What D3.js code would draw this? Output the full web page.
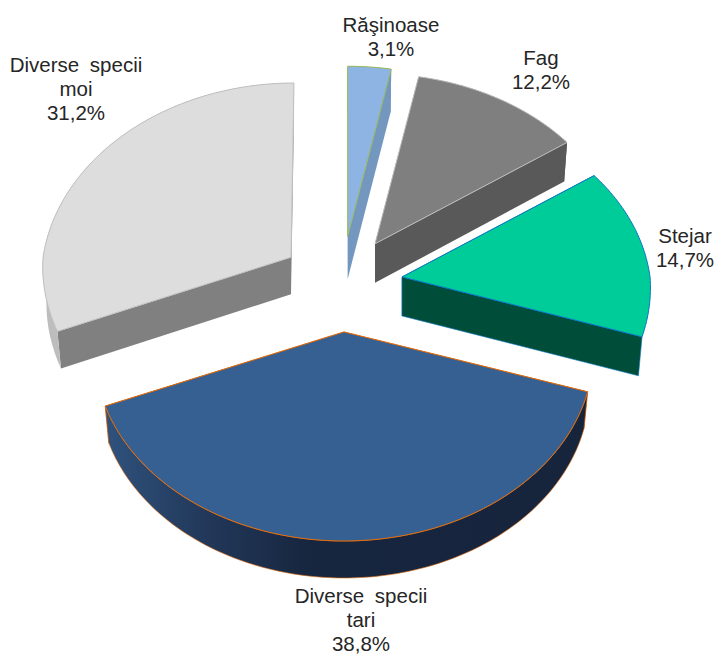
<!DOCTYPE html>
<html>
<head>
<meta charset="utf-8">
<script src="https://cdn.jsdelivr.net/npm/d3@7"></script>
<style>
  html, body { margin: 0; padding: 0; background: #fff; }
  svg { display: block; }
</style>
</head>
<body>
<div id="pieArea"></div>
<script>
// values
const species = ['Răşinoase', 'Fag', 'Stejar', 'Diverse specii tari', 'Diverse specii moi'];
const shares = [3.1, 12.2, 14.7, 38.8, 31.2];
const labelLines = [
  ['Răşinoase', '3,1%'],
  ['Fag', '12,2%'],
  ['Stejar', '14,7%'],
  ['Diverse specii', 'tari', '38,8%'],
  ['Diverse specii', 'moi', '31,2%']
];

// colours per slice: top, radial wall, outer wall, outline
const topColors = ['#8db4e2', '#7f7f7f', '#00cc99', '#376092', '#dddddd'];
const wallColors = ['#7497c0', '#595959', '#004d3a', '#17263f', '#808080'];
const rimColors = ['#7497c0', '#595959', 'none', 'url(#rimTari)', '#bdbdbd']; // stejar shows no outer wall
const lineColors = ['#9bbb59', '#bfbfbf', '#0b78c4', '#e46c0a', '#bfbfbf'];

const width = 716, height = 654;
const centerX = 341.7, centerY = 284;
const explode = 61, explodeY = 48;   // how far the slices are pulled out
const radiusX = 248, radiusY = 187.5, persp = 0.103;
const sliceDepth = [43, 39, 39, 37, 37];
const bottomShrink = 0.985;          // the lower face looks slightly narrower
// small per slice corrections of the 3d look
const leanLow = [0, 0, -0.06, 0, 0.07];
const leanHigh = [0, 0, 0, 0, -0.017];
const backStretch = [1, 1, 1, 1, 1.025];

// label anchor: x centre and first baseline
const labelX = [391, 541, 685, 361, 76];
const labelY = [32, 65, 243, 603, 72];
const lineStep = 24;

const svg = d3.select('#pieArea').append('svg')
  .attr('width', width)
  .attr('height', height);

const grad = svg.append('defs').append('linearGradient')
  .attr('id', 'rimTari')
  .attr('gradientUnits', 'userSpaceOnUse')
  .attr('x1', 105).attr('x2', 590).attr('y1', 0).attr('y2', 0);
grad.append('stop').attr('offset', '0').attr('stop-color', '#2f527d');
grad.append('stop').attr('offset', '0.2').attr('stop-color', '#22395b');
grad.append('stop').attr('offset', '0.42').attr('stop-color', '#17263f');
grad.append('stop').attr('offset', '1').attr('stop-color', '#16253c');

const pie = d3.pie().sort(null).value(d => d);
const arcs = pie(shares);

// point on the rim of a slice, relative to its apex, with a bit of perspective
function rimPoint(angle, i) {
  const u = Math.sin(angle), v = Math.cos(angle);
  const w = 1 + persp * v;
  let x = radiusX * u / w;
  let y = -radiusY * v / w;
  if (y > 0) {
    x += leanLow[i] * y;
  } else {
    y *= backStretch[i];
    x += leanHigh[i] * y;
  }
  return [x, y];
}

const lineGen = d3.line();

function drawSlice(i) {
  const a = arcs[i];
  const mid = (a.startAngle + a.endAngle) / 2;
  const ax = centerX + explode * Math.sin(mid);
  const ay = centerY - explodeY * Math.cos(mid);
  const depth = sliceDepth[i];

  const n = Math.ceil((a.endAngle - a.startAngle) / 0.02);
  const angles = d3.range(n + 1).map(k => a.startAngle + (a.endAngle - a.startAngle) * k / n);
  const upper = angles.map(t => { const p = rimPoint(t, i); return [ax + p[0], ay + p[1]]; });
  const lower = angles.map(t => { const p = rimPoint(t, i); return [ax + p[0] * bottomShrink, ay + p[1] + depth]; });

  const g = svg.append('g').attr('class', 'slice').datum(species[i]);

  // radial walls, the top face hides whatever should not be seen
  [0, n].forEach(k => {
    g.append('path')
      .attr('d', lineGen([[ax, ay], upper[k], lower[k], [ax, ay + depth]]) + 'Z')
      .attr('fill', wallColors[i])
      .attr('stroke', i == 3 || i == 2 ? lineColors[i] : 'none')
      .attr('stroke-width', 0.6);
  });

  // outer wall
  if (rimColors[i] != 'none') {
    g.append('path')
      .attr('d', lineGen(upper.concat(lower.slice().reverse())) + 'Z')
      .attr('fill', rimColors[i])
      .attr('stroke', i == 3 ? lineColors[i] : 'none')
      .attr('stroke-width', 0.6);
  }

  // top face
  g.append('path')
    .attr('d', lineGen([[ax, ay]].concat(upper)) + 'Z')
    .attr('fill', topColors[i])
    .attr('stroke', lineColors[i])
    .attr('stroke-width', 1)
    .attr('stroke-linejoin', 'round');
}

// back to front
[0, 1, 4, 2, 3].forEach(drawSlice);

labelLines.forEach((lines, i) => {
  const t = svg.append('text')
    .attr('text-anchor', 'middle')
    .attr('font-family', '"Liberation Sans", Arial, sans-serif')
    .attr('font-size', 20.5)
    .attr('word-spacing', 5)
    .attr('fill', '#262626');
  lines.forEach((s, k) => {
    t.append('tspan')
      .attr('x', labelX[i])
      .attr('y', labelY[i] + k * lineStep)
      .text(s);
  });
});
</script>
</body>
</html>
